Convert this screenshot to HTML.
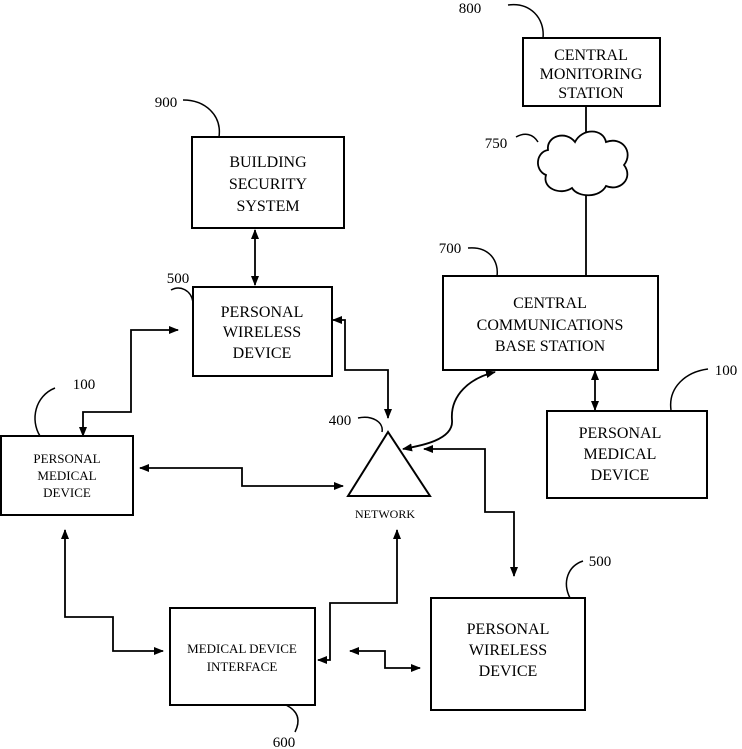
<!DOCTYPE html>
<html><head><meta charset="utf-8"><style>
html,body{margin:0;padding:0;background:#fff}
svg{display:block}
text{font-family:"Liberation Serif",serif;fill:#000;text-anchor:middle}
</style></head><body>
<svg width="742" height="749" viewBox="0 0 742 749" xmlns="http://www.w3.org/2000/svg">
<defs>
<marker id="a" markerWidth="10" markerHeight="8" refX="9" refY="4" orient="auto" markerUnits="userSpaceOnUse">
<path d="M0,0 L10,4 L0,8 z" fill="#000"/></marker>
<marker id="s" markerWidth="10" markerHeight="8" refX="1" refY="4" orient="auto" markerUnits="userSpaceOnUse">
<path d="M10,0 L0,4 L10,8 z" fill="#000"/></marker>
</defs>
<g fill="none" stroke="#000" stroke-width="2">
<rect x="523" y="38" width="137" height="68"/>
<rect x="192" y="137" width="152" height="91"/>
<rect x="193" y="287" width="139" height="89"/>
<rect x="443" y="276" width="215" height="94"/>
<rect x="547" y="411" width="160" height="87"/>
<rect x="1" y="436" width="132" height="79"/>
<rect x="170" y="608" width="145" height="97"/>
<rect x="431" y="598" width="154" height="112"/>
<path d="M388,432 L348,496 L430,496 Z"/>
<path d="M548,150 C546,136 566,130 575,142 C582,128 603,128 606,142 C622,136 634,152 624,165 C634,178 620,192 606,186 C600,198 578,198 572,188 C560,196 542,188 546,175 C534,170 536,152 548,150 Z" stroke-width="1.8"/>
<path d="M586,106 L586,133 M586,195 L586,276" stroke-width="1.8"/>
<g stroke-width="1.5">
<path d="M508,5 C530,2 545,18 543,38"/>
<path d="M516,137 C525,132 533,134 538,142"/>
<path d="M183,100 C205,100 222,115 219,137"/>
<path d="M171,290 C180,285 191,290 193,302"/>
<path d="M468,248 C490,246 499,262 497,276"/>
<path d="M708,369 C685,372 668,388 671,410"/>
<path d="M55,388 C35,396 30,420 40,436"/>
<path d="M358,418 C372,415 384,422 382,432"/>
<path d="M286,705 C300,712 300,722 295,732"/>
<path d="M570,598 C562,582 568,566 583,561"/>
</g>
<g stroke-width="1.8">
<path d="M255,230 L255,285" marker-start="url(#s)" marker-end="url(#a)"/>
<path d="M595,371 L595,410" marker-start="url(#s)" marker-end="url(#a)"/>
<path d="M178,330 L131,330 L131,412 L83,412 L83,436" marker-start="url(#s)" marker-end="url(#a)"/>
<path d="M140,468 L242,468 L242,486 L343,486" marker-start="url(#s)" marker-end="url(#a)"/>
<path d="M333,320 L345,320 L345,370 L388,370 L388,418" marker-start="url(#s)" marker-end="url(#a)"/>
<path d="M495,372 C470,378 450,395 452,420 C454,440 420,446 403,449" marker-start="url(#s)" marker-end="url(#a)"/>
<path d="M424,449 L485,449 L485,512 L514,512 L514,576" marker-start="url(#s)" marker-end="url(#a)"/>
<path d="M65,530 L65,617 L113,617 L113,651 L163,651" marker-start="url(#s)" marker-end="url(#a)"/>
<path d="M318,660 L330,660 L330,603 L397,603 L397,530" marker-start="url(#s)" marker-end="url(#a)"/>
<path d="M350,651 L385,651 L385,668 L420,668" marker-start="url(#s)" marker-end="url(#a)"/>
</g>
</g>
<g font-size="15">
<text x="470" y="13">800</text>
<text x="496" y="148">750</text>
<text x="166" y="107">900</text>
<text x="178" y="283">500</text>
<text x="450" y="253">700</text>
<text x="726" y="375">100</text>
<text x="84" y="389">100</text>
<text x="340" y="425">400</text>
<text x="284" y="747">600</text>
<text x="600" y="566">500</text>
</g>
<g font-size="16">
<text x="591" y="60">CENTRAL</text>
<text x="591" y="79">MONITORING</text>
<text x="591" y="98">STATION</text>
<text x="268" y="167">BUILDING</text>
<text x="268" y="189">SECURITY</text>
<text x="268" y="211">SYSTEM</text>
<text x="262" y="317">PERSONAL</text>
<text x="262" y="337">WIRELESS</text>
<text x="262" y="358">DEVICE</text>
<text x="550" y="308">CENTRAL</text>
<text x="550" y="330">COMMUNICATIONS</text>
<text x="550" y="351">BASE STATION</text>
<text x="620" y="438">PERSONAL</text>
<text x="620" y="459">MEDICAL</text>
<text x="620" y="480">DEVICE</text>
<text x="508" y="634">PERSONAL</text>
<text x="508" y="655">WIRELESS</text>
<text x="508" y="676">DEVICE</text>
</g>
<g font-size="13">
<text x="67" y="463">PERSONAL</text>
<text x="67" y="480">MEDICAL</text>
<text x="67" y="497">DEVICE</text>
<text x="242" y="653">MEDICAL DEVICE</text>
<text x="242" y="671">INTERFACE</text>
<text x="385" y="518" font-size="12">NETWORK</text>
</g>
</svg>
</body></html>
